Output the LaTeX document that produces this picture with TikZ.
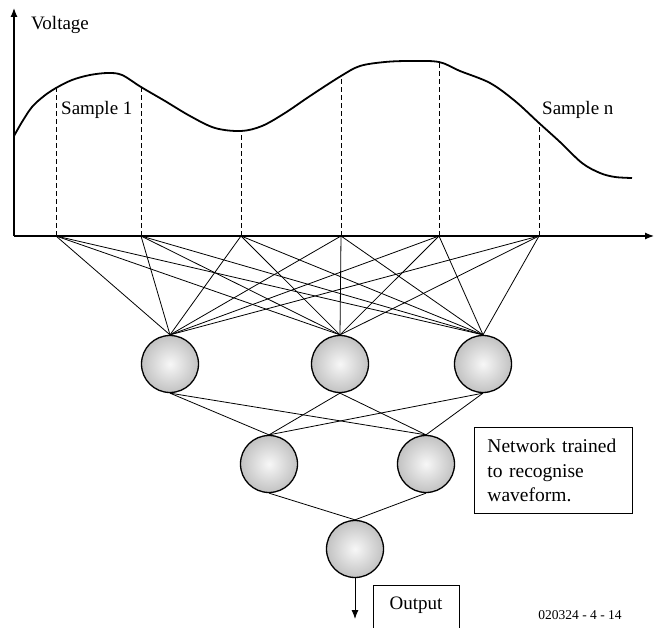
\documentclass[tikz,border=0pt]{standalone}
\usepackage{fontspec}
\setmainfont{Liberation Serif}
\usetikzlibrary{arrows.meta}
\begin{document}
\begin{tikzpicture}[x=1pt,y=-1pt,
  neuron/.style={circle,draw=black,line width=1.3pt,minimum size=57pt,inner sep=0pt,
    shading=radial,inner color=gray!6,outer color=gray!48},
  link/.style={line width=0.8pt},
  axis/.style={line width=1.2pt,-{Latex[length=9pt,width=7pt]}},
  lbl/.style={font=\fontsize{19}{23}\selectfont,inner sep=0pt},
  sampledash/.style={dashed,line width=0.8pt,dash pattern=on 5pt off 3pt}]
\useasboundingbox (0,0) rectangle (654,628);
% axes
\coordinate (orig) at (14,236);
\coordinate (ytip) at (14,8);
\coordinate (xtip) at (654,236);
\draw[axis] (orig) -- (ytip);
\draw[axis] (orig) -- (xtip);
\node[lbl,anchor=west] (vlt) at (31,25) {Voltage};
% waveform
\draw[line width=1.8pt,line join=round] plot[smooth,tension=0.55] coordinates {
 (14,136) (22,122) (32,107) (44,96) (56,88) (72,80) (90,75) (108,73) (122,75) (141,87)
 (165,101) (190,116) (215,128) (241,131) (262,126) (285,113) (310,96) (341,76) (360,66)
 (385,62) (410,61) (439,62) (460,71) (490,83) (515,101) (539,123) (560,142)
 (582,163) (600,173) (615,177) (632,178)};
% samples
\foreach \i/\x/\y in {1/56/88,2/141/87,3/241/131,4/341/76,5/439/62,6/539/123}{
  \coordinate (s\i) at (\x,236);
  \coordinate (c\i) at (\x,\y);
  \draw[sampledash] (s\i) -- (c\i);
}
\node[lbl,anchor=west] (smp1) at (61,110) {Sample 1};
\node[lbl,anchor=west] (smpn) at (542,110) {Sample n};
% neurons
\node[neuron] (h1) at (170,364) {};
\node[neuron] (h2) at (340,364) {};
\node[neuron] (h3) at (483,364) {};
\node[neuron] (o1) at (269,464) {};
\node[neuron] (o2) at (426,464) {};
\node[neuron] (out) at (355,549) {};
% links
\foreach \i in {1,...,6}{
  \foreach \h in {h1,h2,h3}{
    \draw[link] (s\i) -- (\h.north);
  }
}
\foreach \h in {h1,h2,h3}{
  \foreach \o in {o1,o2}{
    \draw[link] (\h.south) -- (\o.north);
  }
}
\draw[link] (o1.south) -- (out.north);
\draw[link] (o2.south) -- (out.north);
\coordinate (otip) at (355,619);
\draw[line width=1pt,-{Latex[length=9pt,width=7pt]}] (out.south) -- (otip);
% output box
\draw[line width=0.9pt] (373,630) -- (373,585) -- (459,585) -- (459,630);
\node[lbl] (outlbl) at (416,605) {Output};
% note box
\node[draw,line width=0.9pt,anchor=north west,minimum width=158pt,minimum height=86pt,
  text width=132pt,inner xsep=13pt,align=left,
  font=\fontsize{19.5}{24.5}\selectfont] (note) at (474,427)
  {Network trained\\to recognise\\waveform.};
\node[font=\fontsize{13.5}{16}\selectfont,inner sep=0pt] (code) at (580,615) {020324 - 4 - 14};
\end{tikzpicture}
\end{document}
